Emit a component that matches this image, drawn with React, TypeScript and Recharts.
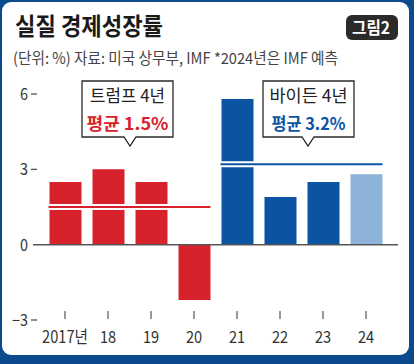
import React from 'react';
import { BarChart, Bar, XAxis, YAxis, Cell, ReferenceLine, ReferenceArea } from 'recharts';

// ── 실질 경제성장률 (단위: %) ─────────────────────────────
const years = ['2017년', '18', '19', '20', '21', '22', '23', '24'];
const growth = [2.5, 3.0, 2.5, -2.2, 5.8, 1.9, 2.5, 2.8];
const barColors = ['#d8222b', '#d8222b', '#d8222b', '#d8222b', '#0b53a3', '#0b53a3', '#0b53a3', '#8db4d8'];
const yTicks = [-3, 0, 3, 6];
const trumpYears = ['2017년', '20'];
const bidenYears = ['21', '24'];
const trumpAvg = 1.5;
const bidenAvg = 3.2;

const data = years.map((year, i) => ({ year, value: growth[i] }));

const FONT = "'Noto Sans CJK KR', 'Noto Sans', sans-serif";
const RED = '#d8222b';
const BLUE = '#0b53a3';

const XTick = ({ x, y, payload }: any) => (
  <g>
    <line x1={x} x2={x} y1={y - 9} y2={y - 1} stroke="#555" strokeWidth={1.2} />
    <text
      transform={`translate(${x},${y + 23}) scale(0.86,1)`}
      textAnchor="middle"
      fontFamily={FONT}
      fontSize={17}
      fill="#333"
    >
      {payload.value}
    </text>
  </g>
);

const YTick = ({ x, y, payload }: any) => (
  <g>
    <text
      transform={`translate(${x - 5},${y + 6}) scale(0.9,1)`}
      textAnchor="end"
      fontFamily={FONT}
      fontSize={16}
      fill="#333"
    >
      {payload.value < 0 ? `−${Math.abs(payload.value)}` : payload.value}
    </text>
    {payload.value !== 0 && (
      <line x1={x - 2} x2={x + 4} y1={y} y2={y} stroke="#444" strokeWidth={1.2} />
    )}
  </g>
);

// 평균선: 흰 테두리 + 색 선
const avgLine = (color: string) => (props: any) => {
  const { x, y, width } = props;
  const inset = 5;
  return (
    <g>
      <line x1={x + inset} x2={x + width - inset} y1={y} y2={y} stroke="#fff" strokeWidth={6} />
      <line x1={x + inset} x2={x + width - inset} y1={y} y2={y} stroke={color} strokeWidth={2} />
    </g>
  );
};

const Callout = ({ left, right, top, bottom, tip, line1, line2, color, w1, w2 }: any) => {
  const cx = (left + right) / 2;
  return (
    <g>
      <path
        d={`M${left},${top} H${right} V${bottom} H${tip + 6} L${tip},${bottom + 9} L${tip - 6},${bottom} H${left} Z`}
        fill="#fff"
        stroke="#2a2a2a"
        strokeWidth={1.3}
      />
      <text x={cx} y={top + 21} textAnchor="middle" fontFamily={FONT} fontSize={17} fill="#222"
        textLength={w1} lengthAdjust="spacingAndGlyphs">{line1}</text>
      <text x={cx} y={top + 49} textAnchor="middle" fontFamily={FONT} fontSize={17} fontWeight={700} fill={color}
        textLength={w2} lengthAdjust="spacingAndGlyphs">{line2}</text>
    </g>
  );
};

export default function App() {
  return (
    <div style={{ position: 'absolute', left: 0, top: 0, width: 414, height: 364, background: '#0c4a8e', overflow: 'hidden' }}>
      <div style={{ position: 'absolute', left: 2, top: 2, width: 407, height: 353, background: '#fff', borderRadius: 9 }} />
      <div style={{ position: 'absolute', left: 0, top: 0 }}>
        <BarChart width={414} height={364} data={data} margin={{ top: 94, right: 16, bottom: 0, left: 0 }}>
          <XAxis
            dataKey="year"
            axisLine={false}
            tickLine={false}
            tickSize={0}
            tickMargin={0}
            interval={0}
            height={44}
            padding={{ left: 10.5, right: 10.5 }}
            tick={<XTick />}
          />
          <YAxis
            type="number"
            domain={[-3, 6]}
            ticks={yTicks}
            width={33}
            axisLine={false}
            tickLine={false}
            tickSize={0}
            tickMargin={0}
            tick={<YTick />}
          />
          <Bar dataKey="value" barSize={32} isAnimationActive={false}>
            {data.map((d, i) => (
              <Cell key={d.year} fill={barColors[i]} />
            ))}
          </Bar>
          <ReferenceLine y={0} stroke="#555" strokeWidth={1.5} zIndex={450} />
          <ReferenceArea x1={trumpYears[0]} x2={trumpYears[1]} y1={trumpAvg} y2={trumpAvg} shape={avgLine(RED)} zIndex={460} />
          <ReferenceArea x1={bidenYears[0]} x2={bidenYears[1]} y1={bidenAvg} y2={bidenAvg} shape={avgLine(BLUE)} zIndex={460} />
        </BarChart>
      </div>
      <svg width={414} height={364} style={{ position: 'absolute', left: 0, top: 0, pointerEvents: 'none' }}>
        <text x={15} y={35} fontFamily={FONT} fontSize={24} fontWeight={700} fill="#1a1a1a"
          textLength={148} lengthAdjust="spacingAndGlyphs">실질 경제성장률</text>
        <rect x={346} y={15} width={52} height={25} rx={6} fill="#2b2b2b" />
        <text x={352} y={34} fontFamily={FONT} fontSize={17} fontWeight={700} fill="#fff"
          textLength={38} lengthAdjust="spacingAndGlyphs">그림2</text>
        <text x={13} y={64} fontFamily={FONT} fontSize={15.5} fill="#444"
          textLength={325} lengthAdjust="spacingAndGlyphs">(단위: %) 자료: 미국 상무부, IMF *2024년은 IMF 예측</text>
        <Callout left={82} right={173} top={81} bottom={137} tip={130} line1="트럼프 4년" line2="평균 1.5%" color={RED} w1={75} w2={82} />
        <Callout left={263} right={354} top={81} bottom={137} tip={308} line1="바이든 4년" line2="평균 3.2%" color={BLUE} w1={78} w2={74} />
      </svg>
    </div>
  );
}
